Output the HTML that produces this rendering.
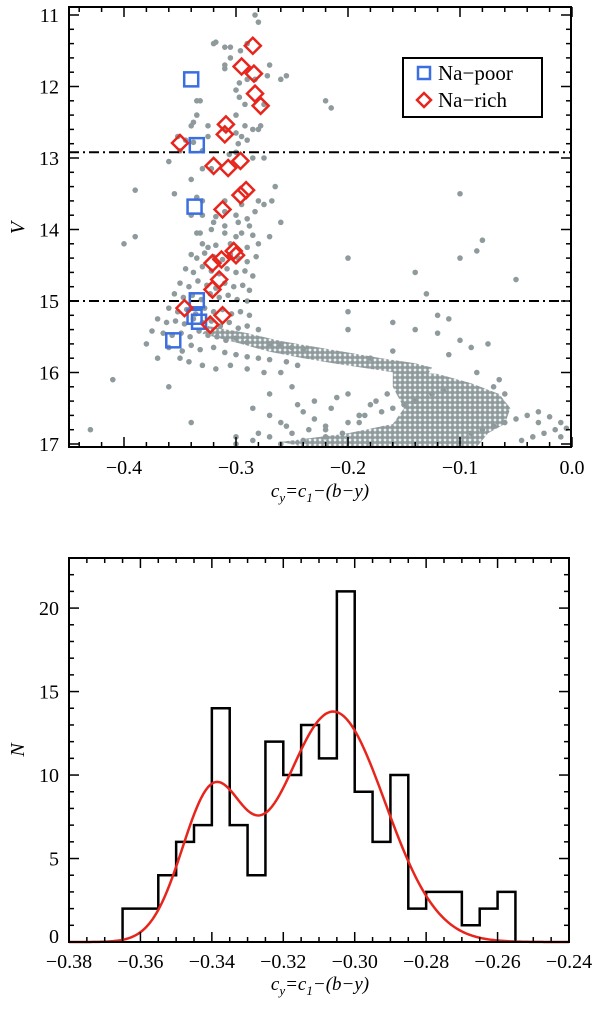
<!DOCTYPE html>
<html><head><meta charset="utf-8"><style>
body{margin:0;background:#fff}
svg text{font-family:"Liberation Serif",serif;fill:#000}
</style></head><body>
<svg id="fig" width="600" height="1010" viewBox="0 0 600 1010" xmlns="http://www.w3.org/2000/svg">
<defs>
<pattern id="dots" width="5" height="5" patternUnits="userSpaceOnUse">
<circle cx="2.5" cy="2.5" r="2.5" fill="#8e9a9c"/>
</pattern>
</defs>
<g id="top"></g>
<g id="bot"></g>
</svg>
<script>
// ---------- CMD data ----------
const cmdX = [-0.283,-0.28,-0.32,-0.318,-0.31,-0.305,-0.296,-0.29,-0.305,-0.31,-0.31,-0.27,-0.29,-0.297,-0.283,-0.272,-0.3,-0.297,-0.292,-0.275,-0.335,-0.332,-0.3,-0.335,-0.338,-0.34,-0.325,-0.31,-0.292,-0.285,-0.28,-0.278,-0.295,-0.3,-0.29,-0.298,-0.325,-0.345,-0.352,-0.338,-0.35,-0.33,-0.306,-0.3,-0.285,-0.275,-0.36,-0.33,-0.322,-0.34,-0.39,-0.355,-0.335,-0.33,-0.31,-0.295,-0.28,-0.275,-0.265,-0.268,-0.34,-0.33,-0.318,-0.31,-0.3,-0.29,-0.283,-0.32,-0.31,-0.298,-0.288,-0.26,-0.335,-0.332,-0.322,-0.31,-0.3,-0.295,-0.285,-0.27,-0.39,-0.4,-0.33,-0.325,-0.318,-0.305,-0.29,-0.28,
-0.34,-0.335,-0.328,-0.32,-0.312,-0.305,-0.298,-0.29,-0.282,-0.345,-0.338,-0.33,-0.322,-0.315,-0.308,-0.3,-0.292,-0.285,-0.35,-0.342,-0.334,-0.326,-0.318,-0.31,-0.302,-0.294,-0.288,-0.355,-0.347,-0.339,-0.331,-0.323,-0.315,-0.307,-0.299,-0.29,-0.36,-0.352,-0.344,-0.336,-0.328,-0.32,-0.312,-0.304,-0.296,-0.288,-0.37,-0.362,-0.354,-0.346,-0.338,-0.33,-0.322,-0.314,-0.306,-0.298,-0.29,-0.28,-0.375,-0.365,-0.357,-0.349,-0.341,-0.333,-0.325,-0.317,-0.309,-0.3,-0.29,-0.27,-0.26,-0.25,-0.24,-0.38,-0.36,-0.348,-0.34,-0.332,-0.32,-0.31,-0.3,-0.29,-0.28,-0.27,-0.255,-0.245,-0.35,-0.342,-0.33,-0.318,-0.305,-0.29,-0.275,-0.26,
-0.22,-0.215,-0.26,-0.255,-0.1,-0.08,-0.085,-0.1,-0.14,-0.2,-0.2,-0.13,-0.05,-0.43,-0.41,-0.37,-0.36,-0.34,-0.3,-0.285,-0.27,-0.26,-0.25,-0.24,-0.23,-0.22,-0.21,-0.19,-0.28,-0.27,-0.255,-0.245,-0.23,-0.215,-0.2,-0.19,-0.18,-0.26,-0.24,-0.22,-0.205,-0.19,-0.175,-0.165,-0.3,-0.285,-0.27,-0.25,-0.235,-0.22,-0.2,-0.185,-0.17,-0.16,-0.15,-0.14,-0.125,-0.115,-0.09,-0.08,-0.07,-0.06,-0.05,-0.04,-0.03,-0.02,-0.01,-0.045,-0.035,-0.025,-0.015,-0.005,-0.06,-0.03,-0.01,-0.1,-0.12,-0.14,-0.16,-0.12,-0.11,-0.09,-0.065,-0.075,-0.2,-0.18,-0.16,-0.11,-0.085,-0.07];
const cmdV = [11.0,11.1,11.4,11.38,11.45,11.45,11.5,11.4,11.6,11.7,11.75,11.7,11.9,11.95,11.9,11.85,12.05,12.15,12.25,12.25,12.2,12.2,12.4,12.4,12.5,12.55,12.55,12.6,12.55,12.6,12.6,12.55,12.7,12.65,12.75,12.8,12.7,12.75,12.7,12.78,12.9,12.9,12.95,12.92,13.0,13.0,13.05,13.15,13.15,13.3,13.45,13.5,13.55,13.6,13.6,13.65,13.6,13.65,13.4,13.6,13.8,13.8,13.82,13.75,13.8,13.85,13.75,13.9,13.95,13.9,13.95,13.9,14.05,14.05,14.0,14.05,14.1,14.05,14.08,14.1,14.1,14.2,14.2,14.25,14.22,14.2,14.25,14.2,
14.35,14.4,14.33,14.38,14.42,14.35,14.4,14.45,14.38,14.55,14.6,14.52,14.58,14.62,14.55,14.6,14.58,14.65,14.75,14.8,14.72,14.78,14.82,14.75,14.8,14.78,14.85,14.9,14.95,14.92,14.98,14.9,14.95,14.92,14.98,15.0,15.1,15.15,15.12,15.18,15.1,15.15,15.12,15.18,15.15,15.2,15.25,15.3,15.28,15.32,15.25,15.3,15.28,15.35,15.3,15.38,15.35,15.4,15.42,15.45,15.48,15.45,15.5,15.42,15.48,15.5,15.55,15.52,15.58,15.6,15.62,15.65,15.68,15.6,15.65,15.7,15.62,15.68,15.65,15.72,15.75,15.78,15.8,15.82,15.85,15.9,15.8,15.85,15.9,15.95,15.9,15.95,16.0,16.0,
12.2,12.3,11.9,11.85,13.5,14.15,14.3,14.4,14.6,14.4,15.15,14.9,14.7,16.8,16.1,15.8,16.2,16.7,16.9,16.5,16.3,16.7,16.2,16.55,16.4,16.8,16.35,16.6,16.85,16.6,16.75,16.45,16.65,16.5,16.3,16.7,16.45,17.0,16.95,16.9,16.85,16.6,16.4,16.3,17.0,16.95,16.9,16.85,16.8,16.75,16.7,16.6,16.55,16.5,16.45,16.4,16.3,16.25,16.85,16.8,16.75,16.7,16.65,16.6,16.55,16.62,16.7,16.95,16.9,16.85,16.8,16.78,16.3,16.7,16.9,15.55,15.45,15.4,15.3,15.2,15.25,15.65,16.1,15.6,15.4,15.8,15.7,15.75,16.0,16.2];
// dense regions outlined in data units
const bandX = [-0.325,-0.29,-0.26,-0.23,-0.2,-0.17,-0.14,-0.125,-0.13,-0.15,-0.18,-0.21,-0.24,-0.27,-0.3,-0.33];
const bandV = [15.35,15.45,15.56,15.64,15.72,15.8,15.87,15.93,16.07,16.02,15.95,15.88,15.8,15.71,15.58,15.46];
const blobX = [-0.16,-0.12,-0.09,-0.065,-0.055,-0.06,-0.075,-0.085,-0.24,-0.26,-0.2,-0.16,-0.15,-0.16];
const blobV = [15.98,16.02,16.15,16.3,16.5,16.72,16.85,17.04,17.04,16.97,16.85,16.72,16.5,16.2];
const poorX = [-0.34,-0.335,-0.337,-0.335,-0.337,-0.333,-0.356];
const poorV = [11.9,12.82,13.68,14.99,15.22,15.29,15.55];
const richX = [-0.285,-0.295,-0.284,-0.283,-0.278,-0.309,-0.31,-0.35,-0.32,-0.307,-0.296,-0.291,-0.296,-0.312,-0.302,-0.3,-0.313,-0.321,-0.315,-0.321,-0.346,-0.312,-0.323];
const richV = [11.43,11.72,11.82,12.1,12.27,12.53,12.67,12.79,13.11,13.14,13.04,13.45,13.52,13.72,14.3,14.36,14.42,14.47,14.7,14.84,15.1,15.2,15.33];
const cutLines = [12.92, 15.0];
const xTicksTop = [-0.4,-0.3,-0.2,-0.1,0.0];
const vTicks = [11,12,13,14,15,16,17];
// ---------- histogram data ----------
const binStart = [-0.365,-0.36,-0.355,-0.35,-0.345,-0.34,-0.335,-0.33,-0.325,-0.32,-0.315,-0.31,-0.305,-0.30,-0.295,-0.29,-0.285,-0.28,-0.275,-0.27,-0.265,-0.26];
const counts = [2,2,4,6,7,14,7,4,12,10,13,11,21,9,6,10,2,3,3,1,2,3];
const gAmp = [8.6,13.8];
const gMu = [-0.3400,-0.3060];
const gSig = [0.0086,0.0145];
const xTicksBot = [-0.38,-0.36,-0.34,-0.32,-0.30,-0.28,-0.26,-0.24];
const nTicks = [0,5,10,15,20];

const NS='http://www.w3.org/2000/svg';
function mk(parent,tag,attrs){const e=document.createElementNS(NS,tag);for(const k in attrs)e.setAttribute(k,attrs[k]);parent.appendChild(e);return e;}

// ---------- top panel ----------
const T=document.getElementById('top');
const L1=69,R1=571,T1=7,B1=447;
const xs1=v=>572+v*1120;
const ys1=v=>15+(v-11)*71.5;
let e;
e=mk(T,'polygon',{points:bandX.map((x,i)=>xs1(x)+','+ys1(bandV[i])).join(' '),fill:'url(#dots)'});


e=mk(T,'polygon',{points:blobX.map((x,i)=>xs1(x)+','+ys1(blobV[i])).join(' '),fill:'url(#dots)'});


cmdX.forEach((x,i)=>{const px=xs1(x),py=ys1(cmdV[i]);if(px<L1+2||px>R1-2||py<T1+2||py>B1-2)return;
 const c=mk(T,'circle',{cx:px,cy:py,r:2.8,fill:'#8e9a9c'});
 
 });
cutLines.forEach(v=>{const l=mk(T,'line',{x1:L1,x2:R1,y1:ys1(v),y2:ys1(v),stroke:'#000','stroke-width':2,'stroke-dasharray':'10 4 2 4'});
 
 });
poorX.forEach((x,i)=>{const s=mk(T,'rect',{x:xs1(x)-7,y:ys1(poorV[i])-7,width:14,height:14,fill:'none',stroke:'#3b6fe0','stroke-width':2.5});
 
 });
richX.forEach((x,i)=>{const px=xs1(x),py=ys1(richV[i]);const s=mk(T,'polygon',{points:`${px},${py-8} ${px+8},${py} ${px},${py+8} ${px-8},${py}`,fill:'none',stroke:'#e8251c','stroke-width':2.5});
 
 });
function frame(g,l,r,t,b){const f=mk(g,'rect',{x:l,y:t,width:r-l,height:b-t,fill:'none',stroke:'#000','stroke-width':2});
 
 }
frame(T,L1,R1,T1,B1);
function tickX(g,pos,len,t,b){mk(g,'line',{x1:pos,x2:pos,y1:b,y2:b-len,stroke:'#000','stroke-width':1.5});mk(g,'line',{x1:pos,x2:pos,y1:t,y2:t+len,stroke:'#000','stroke-width':1.5});}
function tickY(g,pos,len,l,r){mk(g,'line',{y1:pos,y2:pos,x1:l,x2:l+len,stroke:'#000','stroke-width':1.5});mk(g,'line',{y1:pos,y2:pos,x1:r,x2:r-len,stroke:'#000','stroke-width':1.5});}
for(let k=-22;k<=0;k++){const v=k*0.02;const major=Math.abs(v*10-Math.round(v*10))<1e-6;tickX(T,xs1(v),major?10:5,T1,B1);}
for(let k=55;k<=85;k++){const v=k*0.2;if(v<10.9||v>17.04)continue;const major=k%5===0;tickY(T,ys1(v),major?10:5,L1,R1);}
xTicksTop.forEach(v=>{const t=mk(T,'text',{x:xs1(v),y:474,'font-size':20,'text-anchor':'middle'});t.textContent=(v<0?'−':'')+Math.abs(v).toFixed(1);
 
 });
vTicks.forEach(v=>{const t=mk(T,'text',{x:59,y:ys1(v)+7,'font-size':20,'text-anchor':'end'});t.textContent=v;
 
 });
e=mk(T,'text',{x:0,y:0,'font-size':20,'font-style':'italic','text-anchor':'middle',transform:'translate(24,228) rotate(-90)'});e.textContent='V';


function xtitle(g,y){const t=mk(g,'text',{x:320,y:y,'font-size':19,'font-style':'italic','text-anchor':'middle'});
 t.innerHTML='c<tspan font-size="13" dy="5">y</tspan><tspan dy="-5">=c</tspan><tspan font-size="13" dy="5">1</tspan><tspan dy="-5">−(b−y)</tspan>';
 
 }
xtitle(T,497);
// legend
const lg=mk(T,'g',{});


mk(lg,'rect',{x:403,y:58,width:139,height:59,fill:'#fff',stroke:'#000','stroke-width':2});
mk(lg,'rect',{x:418,y:67,width:12,height:12,fill:'none',stroke:'#3b6fe0','stroke-width':2.5});
mk(lg,'polygon',{points:'424,93 431,100 424,107 417,100',fill:'none',stroke:'#e8251c','stroke-width':2.5});
e=mk(lg,'text',{x:438,y:80,'font-size':21});e.textContent='Na−poor';


e=mk(lg,'text',{x:438,y:107,'font-size':21});e.textContent='Na−rich';



// ---------- bottom panel ----------
const Bt=document.getElementById('bot');
const L2=69,R2=569,T2=558,B2=942;
const xs2=v=>L2+(v+0.38)/0.14*(R2-L2);
const ys2=v=>B2-v*(B2-T2)/23;
let d='M'+xs2(binStart[0])+','+ys2(0);
binStart.forEach((b,i)=>{d+=' L'+xs2(b)+','+ys2(counts[i])+' L'+xs2(b+0.005)+','+ys2(counts[i]);});
d+=' L'+xs2(binStart[binStart.length-1]+0.005)+','+ys2(0);
e=mk(Bt,'path',{d:d,fill:'none',stroke:'#000','stroke-width':2.5});


let cd='';
for(let k=0;k<=280;k++){const x=-0.38+k*0.0005;let y=0;for(let j=0;j<gAmp.length;j++)y+=gAmp[j]*Math.exp(-((x-gMu[j])**2)/(2*gSig[j]**2));cd+=(k?' L':'M')+xs2(x).toFixed(2)+','+ys2(y).toFixed(2);}
e=mk(Bt,'path',{d:cd,fill:'none',stroke:'#e8251c','stroke-width':2.5});


frame(Bt,L2,R2,T2,B2);
for(let k=0;k<=28;k++){const v=-0.38+k*0.005;tickX(Bt,xs2(v),k%4===0?10:5,T2,B2);}
for(let k=0;k<=23;k++){tickY(Bt,ys2(k),k%5===0?10:5,L2,R2);}
xTicksBot.forEach(v=>{const t=mk(Bt,'text',{x:xs2(v),y:968,'font-size':20,'text-anchor':'middle'});t.textContent=(v<0?'−':'')+Math.abs(v).toFixed(2);
 
 });
nTicks.forEach(v=>{const t=mk(Bt,'text',{x:59,y:ys2(v)+7-(v===0?6:0),'font-size':20,'text-anchor':'end'});t.textContent=v;
 
 });
e=mk(Bt,'text',{x:0,y:0,'font-size':20,'font-style':'italic','text-anchor':'middle',transform:'translate(24,750) rotate(-90)'});e.textContent='N';


xtitle(Bt,990);
</script>
</body></html>
